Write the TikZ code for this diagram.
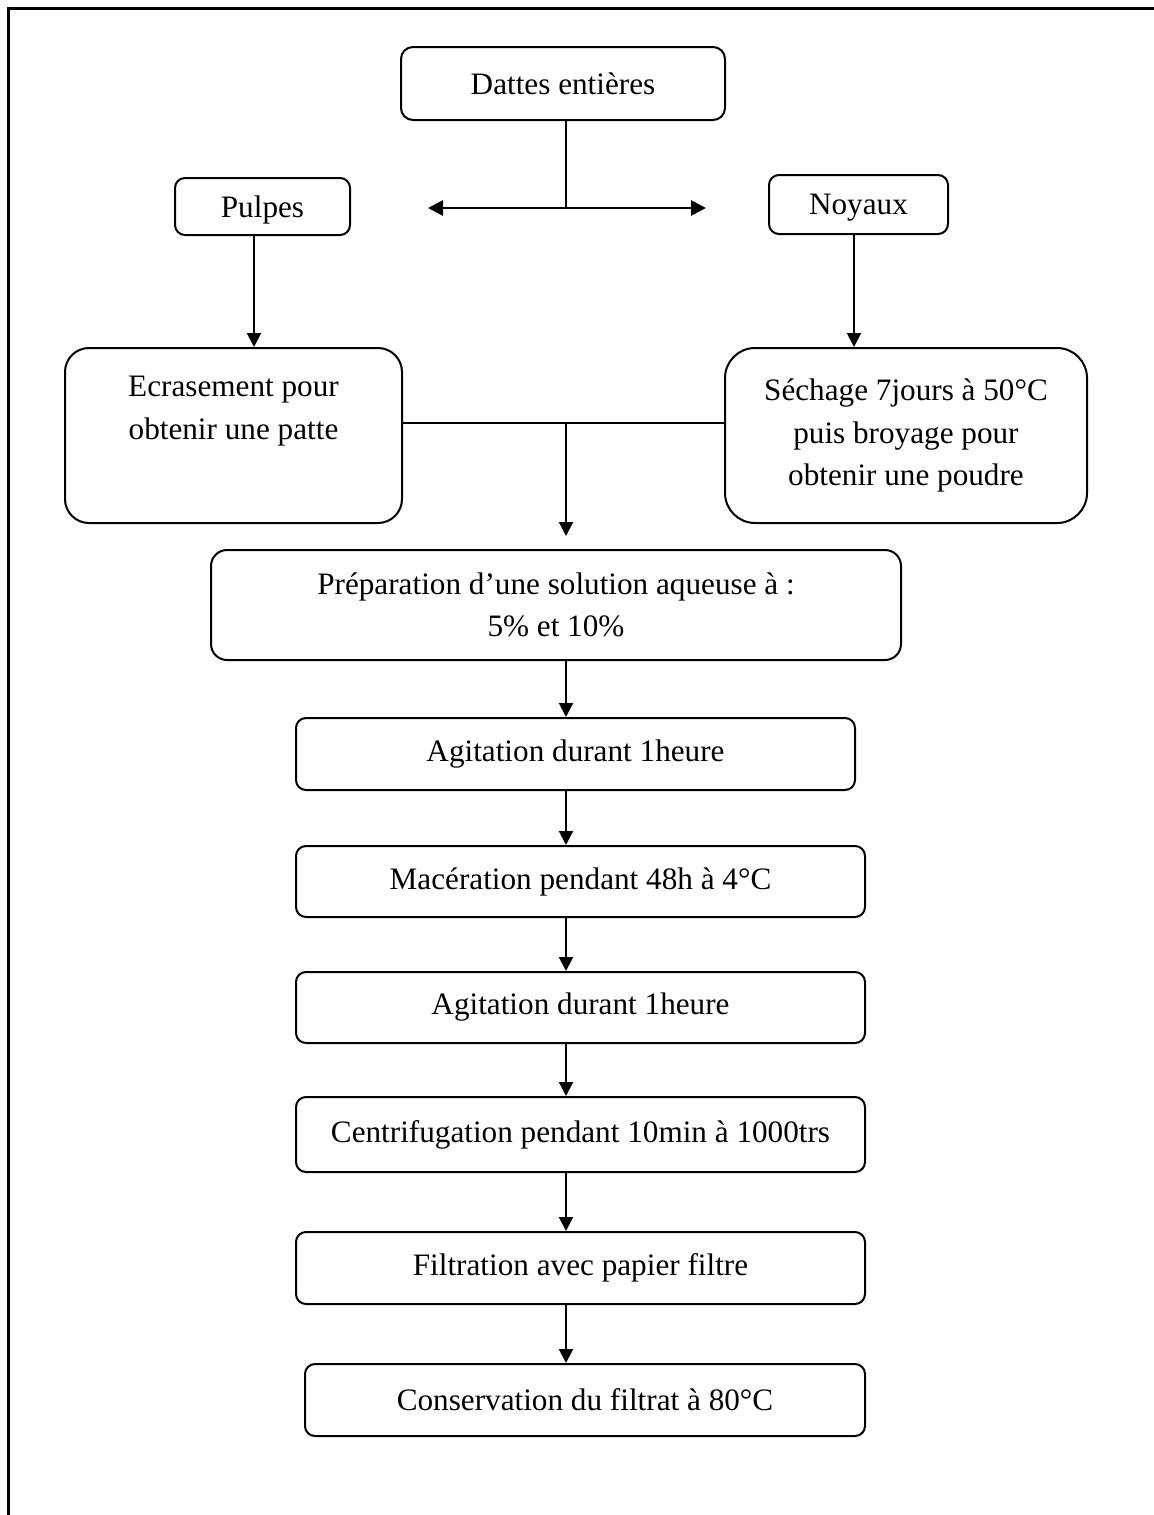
\documentclass[tikz,border=0pt]{standalone}
\usepackage{fontspec}
\setmainfont{Liberation Serif}
\usetikzlibrary{arrows.meta}
\begin{document}
\begin{tikzpicture}[x=0.5pt,y=-0.5pt,
  box/.style={draw,line width=1pt,rounded corners=5pt,inner sep=0pt,align=center,
    font=\fontsize{15.6}{21.2}\selectfont},
  bigbox/.style={box,rounded corners=13pt},
  arr/.style={line width=1pt,-{Triangle[length=7pt,width=7pt]}},
  plain/.style={line width=1pt}]
\useasboundingbox (0,0) rectangle (1154,1515);
\draw[line width=1.5pt] (8,1515) -- (8,8) -- (1154,8);

\node[box,rounded corners=6pt,minimum width=162pt,minimum height=36.5pt] (dattes) at (563,83.5) {Dattes entières};
\node[box,text depth=0pt,minimum width=87.5pt,minimum height=28.5pt] (pulpes) at (262.5,206.5) {Pulpes};
\node[box,text depth=0pt,minimum width=89.5pt,minimum height=29.5pt] (noyaux) at (858.5,204.5) {Noyaux};
\node[bigbox,rounded corners=12pt,minimum width=168.5pt,minimum height=87.5pt] (ecr) at (233.5,435.5) {Ecrasement pour\\obtenir une patte\\\strut};
\node[bigbox,rounded corners=15pt,minimum width=181pt,minimum height=87.5pt] (sech) at (906,435.5) {Séchage 7jours à 50°C\\puis broyage pour\\obtenir une poudre};
\node[box,rounded corners=8pt,minimum width=345pt,minimum height=55pt] (prep) at (556,605) {Préparation d’une solution aqueuse à :\\5\% et 10\%};
\node[box,minimum width=279.5pt,minimum height=36pt] (agit1) at (575.5,754) {Agitation durant 1heure};
\node[box,minimum width=284.5pt,minimum height=35.5pt] (mac) at (580.5,881.5) {Macération pendant 48h à 4°C};
\node[box,minimum width=284.5pt,minimum height=35.5pt] (agit2) at (580.5,1007.5) {Agitation durant 1heure};
\node[box,minimum width=284.5pt,minimum height=37.5pt] (centri) at (580.5,1134.5) {Centrifugation pendant 10min à 1000trs};
\node[box,minimum width=284.5pt,minimum height=36pt] (filt) at (580.5,1268) {Filtration avec papier filtre};
\node[box,minimum width=280pt,minimum height=36pt] (cons) at (585,1400) {Conservation du filtrat à 80°C};

\coordinate (spine) at (566,0);
\coordinate (j1) at (566,208);
\coordinate (la) at (428,208);
\coordinate (ra) at (706,208);
\coordinate (j2) at (566,423);
\coordinate (pa) at ([xshift=-4.25pt]pulpes.south);
\coordinate (na) at ([xshift=-2.25pt]noyaux.south);

\draw[plain] (j1 |- dattes.south) -- (j1);
\draw[line width=1.4pt,{Triangle[length=7.5pt,width=7.5pt]}-{Triangle[length=7.5pt,width=7.5pt]}] (la) -- (ra);
\draw[arr] (pa) -- (pa |- ecr.north);
\draw[arr] (na) -- (na |- sech.north);
\draw[plain] (ecr.east |- j2) -- (sech.west |- j2);
\draw[arr,shorten >=6.5pt] (j2) -- (j2 |- prep.north);
\foreach \a/\b in {prep/agit1,agit1/mac,mac/agit2,agit2/centri,centri/filt,filt/cons}
  \draw[arr] (spine |- \a.south) -- (spine |- \b.north);
\end{tikzpicture}
\end{document}
